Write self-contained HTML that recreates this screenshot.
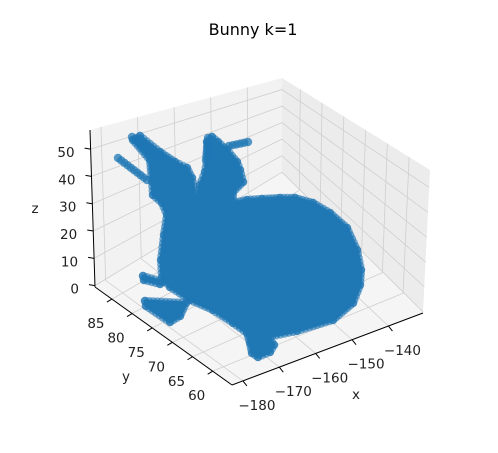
<!DOCTYPE html>
<html><head><meta charset="utf-8">
<style>
html,body{margin:0;padding:0;background:#fff;}
svg{display:block;font-family:"DejaVu Sans","Liberation Sans",sans-serif;}
</style></head>
<body>
<svg id="chart" width="498" height="453" viewBox="0 0 498 453">
<text x="253" y="35" text-anchor="middle" font-size="16">Bunny k=1</text>
<g id="panes"></g>
<g id="grid"></g>
<g id="axes"></g>
<g id="bunny"></g>
<g id="labels"></g>
</svg>
<script>
const xTicks=[-180,-170,-160,-150,-140];
const yTicks=[60,65,70,75,80,85];
const zTicks=[0,10,20,30,40,50];
const xRange=[-183,-130.5];
const yRange=[55.2,89.2];
const zRange=[-0.5,57];
const NS='http://www.w3.org/2000/svg';
const C={
 '000':[232,385],'100':[423,313],'010':[95,287],'110':[282,173],
 '001':[235,210],'101':[430,170],'011':[90,130],'111':[282,78]};
function lerp(a,b,t){return [a[0]+(b[0]-a[0])*t,a[1]+(b[1]-a[1])*t];}
function proj(u,v,w){
 const a=lerp(C['000'],C['100'],u),b=lerp(C['010'],C['110'],u);
 const c=lerp(C['001'],C['101'],u),d=lerp(C['011'],C['111'],u);
 return lerp(lerp(a,b,v),lerp(c,d,v),w);
}
function fx(x){return (x-xRange[0])/(xRange[1]-xRange[0]);}
function fy(y){return (y-yRange[0])/(yRange[1]-yRange[0]);}
function fz(z){return (z-zRange[0])/(zRange[1]-zRange[0]);}
function mk(tag,attrs,parent){const e=document.createElementNS(NS,tag);for(const k in attrs)e.setAttribute(k,attrs[k]);parent.appendChild(e);return e;}
function pts(a){return a.map(p=>p.join(',')).join(' ');}
const panes=document.getElementById('panes');
let p;
p=mk('polygon',{points:pts([C['010'],C['110'],C['111'],C['011']]),fill:'#f2f2f2'},panes);


p=mk('polygon',{points:pts([C['100'],C['110'],C['111'],C['101']]),fill:'#ececec'},panes);


p=mk('polygon',{points:pts([C['000'],C['100'],C['110'],C['010']]),fill:'#f5f5f5'},panes);


const grid=document.getElementById('grid');
function line(a,b,par,st,w){return mk('line',{x1:a[0],y1:a[1],x2:b[0],y2:b[1],stroke:st,'stroke-width':w},par);}
xTicks.forEach(t=>{const u=fx(t);
 let l=line(proj(u,0,0),proj(u,1,0),grid,'#cfcfcf',0.8);
 
 
 l=line(proj(u,1,0),proj(u,1,1),grid,'#cfcfcf',0.8);
 
 });
yTicks.forEach(t=>{const v=fy(t);
 let l=line(proj(0,v,0),proj(1,v,0),grid,'#cfcfcf',0.8);
 
 
 l=line(proj(1,v,0),proj(1,v,1),grid,'#cfcfcf',0.8);
 
 });
zTicks.forEach(t=>{const w=fz(t);
 let l=line(proj(0,1,w),proj(1,1,w),grid,'#cfcfcf',0.8);
 
 
 l=line(proj(1,1,w),proj(1,0,w),grid,'#cfcfcf',0.8);
 
 });
const axes=document.getElementById('axes');
let a;
a=line(C['000'],C['100'],axes,'#000',1);
a=line(C['000'],C['010'],axes,'#000',1);
a=line(C['010'],C['011'],axes,'#000',1);
const labels=document.getElementById('labels');
function txt(s,x,y,anchor,name){const t=mk('text',{x:x,y:y,'text-anchor':anchor,'font-size':13.5,fill:'#222'},labels);t.textContent=s;
 return t;}
xTicks.forEach(t=>{const q=proj(fx(t),0,0);
 line(q,[q[0]+4,q[1]+5],axes,'#000',1);
 txt(String(t).replace('-','\u2212'),q[0]+14,q[1]+29,'middle','x-tick-label');});
yTicks.forEach(t=>{const q=proj(0,fy(t),0);
 line(q,[q[0]-5,q[1]+3],axes,'#000',1);
 txt(String(t),q[0]-16,q[1]+29,'middle','y-tick-label');});
zTicks.forEach(t=>{const q=proj(0,1,fz(t));
 line(q,[q[0]-6,q[1]-1],axes,'#000',1);
 txt(String(t),q[0]-16,q[1]+8,'end','z-tick-label');});
txt('x',356,399,'middle','x-axis-title');
txt('y',126,381,'middle','y-axis-title');
txt('z',35,213,'middle','z-axis-title');
const body=[[258,357],[270,352],[274,345],[268,337],[297,331],[333,320],[353,303],[360,285],[361,270],[357,250],[347,228],[330,213],[313,203],[295,198],[280,198],[262,199],[247,200],[233,203],[233,192],[243,182],[240,170],[237,162],[227,150],[218,142],[212,137],[207,142],[208,155],[205,172],[200,185],[198,200],[195,198],[192,178],[187,168],[175,162],[160,152],[140,136],[133,140],[150,160],[152,182],[153,195],[162,203],[167,215],[164,235],[161,260],[162,277],[170,287],[190,300],[213,310],[233,323],[247,333],[250,343],[252,353]];
const strips=[[[132,137],[160,157]],[[118,158],[147,180]],[[229,146],[248,142]],[[208,138],[206,160]]];
const paws=[[[145,301],[186,303],[180,316],[170,322],[146,306]],[[143,276],[163,282],[160,284],[144,280]]];
const B=document.getElementById('bunny');
const col='#1f77b4';
function chain(a,b,name,op){const d=Math.hypot(b[0]-a[0],b[1]-a[1]);const n=Math.max(1,Math.round(d/4));
 for(let i=0;i<=n;i++){const q=lerp(a,b,i/n);const e=mk('circle',{cx:q[0],cy:q[1],r:4.2,fill:col,'fill-opacity':op},B);
  
  }}
body.forEach((q,i)=>chain(q,body[(i+1)%body.length],'bunny-edge-point',0.6));
const bp=mk('polygon',{points:pts(body),fill:col,stroke:col,'stroke-width':3,'stroke-linejoin':'round'},B);


paws.forEach(pp=>{pp.forEach((q,i)=>chain(q,pp[(i+1)%pp.length],'bunny-paw-point',0.6));
 const e=mk('polygon',{points:pts(pp),fill:col,stroke:col,'stroke-width':3,'stroke-linejoin':'round'},B);
 
 });
strips.forEach(s=>chain(s[0],s[1],'bunny-ear-point',0.75));
</script>
</body></html>
